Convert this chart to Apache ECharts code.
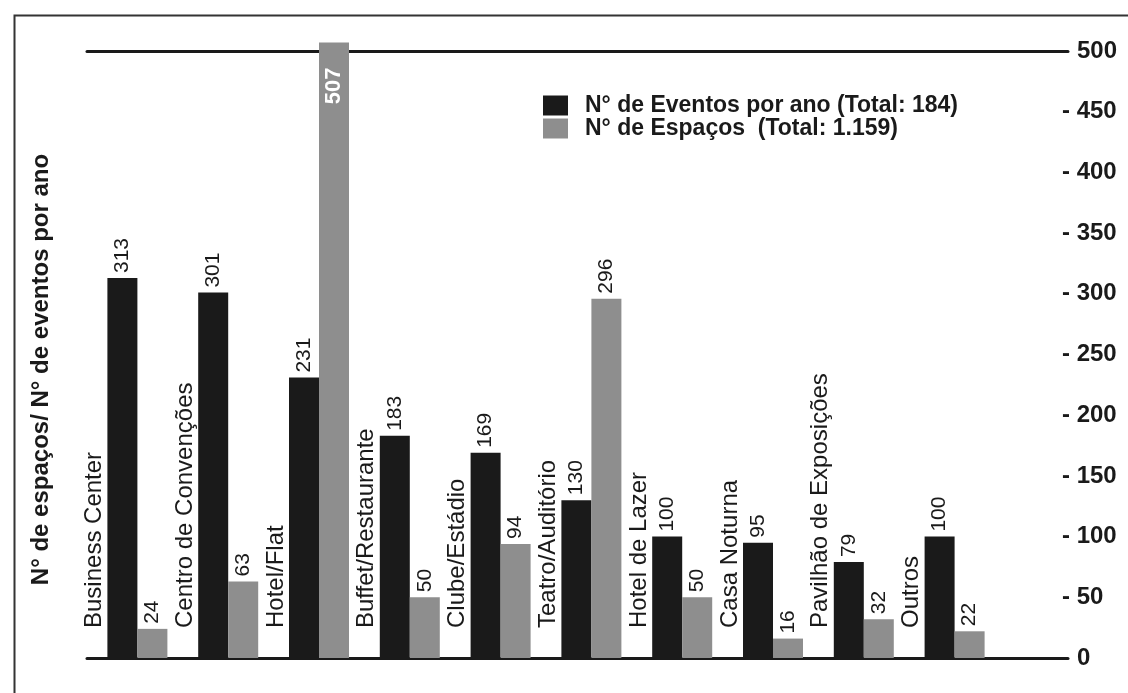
<!DOCTYPE html>
<html>
<head>
<meta charset="utf-8">
<script src="https://cdn.jsdelivr.net/npm/echarts@6/dist/echarts.min.js"></script>
<style>
html,body{margin:0;padding:0;background:#fff;}
#chart{width:1128px;height:693px;}
</style>
</head>
<body>
<div id="chart"></div>
<script>
const categories = ['Business Center','Centro de Convenções','Hotel/Flat','Buffet/Restaurante','Clube/Estádio','Teatro/Auditório','Hotel de Lazer','Casa Noturna','Pavilhão de Exposições','Outros'];
const eventos = [313, 301, 231, 183, 169, 130, 100, 95, 79, 100];
const espacos = [24, 63, 507, 50, 94, 296, 50, 16, 32, 22];
const seriesNames = ['N° de Eventos por ano (Total: 184)', 'N° de Espaços  (Total: 1.159)'];
const yMin = 0, yMax = 500, yStep = 50;
const yAxisName = 'N° de espaços/ N° de eventos por ano';

const FONT = '"Liberation Sans", Arial, Helvetica, sans-serif';
const INK = '#1a1a1a';
const BLACK = '#1a1a1a';
const GRAY = '#8e8e8e';

const chart = echarts.init(document.getElementById('chart'), null, {renderer: 'canvas'});

const valueLabel = {
  show: true, position: 'top', rotate: 90, align: 'left', verticalAlign: 'middle',
  distance: 5, fontSize: 21, color: INK, fontFamily: FONT
};

function barData(arr) {
  return arr.map(v => v > yMax ? {
    value: v,
    label: {position: 'insideTop', align: 'right', color: '#fff', distance: 25, fontWeight: 'bold', fontSize: 22}
  } : v);
}

const option = {
  backgroundColor: '#fff',
  animation: false,
  graphic: [{
    type: 'rect', left: 12, top: 13, z: -1,
    shape: {width: 1140, height: 700},
    style: {fill: 'none', stroke: '#333', lineWidth: 2}
  }],
  legend: {
    orient: 'vertical', left: 538, top: 89, itemWidth: 25, itemHeight: 20, itemGap: 0,
    icon: 'rect', data: seriesNames,
    textStyle: {fontSize: 23, fontWeight: 'bold', color: INK, fontFamily: FONT, padding: [0, 0, 0, 12]}
  },
  grid: [
    {left: 92, right: 128, top: 51, bottom: 35},
    {left: 87, right: 60, top: 51, bottom: 35}
  ],
  xAxis: [
    {type: 'category', gridIndex: 0, data: categories,
     axisLine: {show: false}, axisTick: {show: false}, axisLabel: {show: false}},
    {type: 'value', gridIndex: 1, min: 0, max: 1, position: 'bottom',
     axisLine: {show: true, onZero: false, lineStyle: {color: INK, width: 3}},
     axisTick: {show: false}, axisLabel: {show: false}, splitLine: {show: false}},
    {type: 'value', gridIndex: 1, min: 0, max: 1, position: 'top',
     axisLine: {show: true, onZero: false, lineStyle: {color: INK, width: 3}},
     axisTick: {show: false}, axisLabel: {show: false}, splitLine: {show: false}}
  ],
  yAxis: [
    {type: 'value', gridIndex: 0, min: yMin, max: yMax, interval: yStep,
     name: yAxisName, nameLocation: 'middle', nameGap: 39, nameRotate: 90,
     nameTextStyle: {fontSize: 24, fontWeight: 'bold', color: INK, fontFamily: FONT, padding: [0, 30, 0, 0]},
     axisLine: {show: false}, axisTick: {show: false}, axisLabel: {show: false}, splitLine: {show: false}},
    {type: 'value', gridIndex: 1, min: yMin, max: yMax, interval: yStep, position: 'right',
     axisLine: {show: false}, axisTick: {show: false}, splitLine: {show: false},
     axisLabel: {
       margin: -6, align: 'left', fontSize: 24, fontWeight: 'bold', color: INK, fontFamily: FONT,
       formatter: v => (v === yMin || v === yMax) ? '{e|' + v + '}' : '- ' + v,
       rich: {e: {padding: [0, 0, 0, 15], fontSize: 24, fontWeight: 'bold', color: INK, fontFamily: FONT}}
     }}
  ],
  series: [
    {name: seriesNames[0], type: 'bar', xAxisIndex: 0, yAxisIndex: 0, data: barData(eventos),
     barWidth: 30, barGap: '0%', clip: false, itemStyle: {color: BLACK}, label: valueLabel},
    {name: seriesNames[1], type: 'bar', xAxisIndex: 0, yAxisIndex: 0, data: barData(espacos),
     barWidth: 30, barGap: '0%', clip: false, itemStyle: {color: GRAY}, label: valueLabel},
    {type: 'custom', xAxisIndex: 0, yAxisIndex: 0, silent: true,
     data: categories.map((c, i) => [i, 0]),
     encode: {x: 0, y: 1},
     renderItem: function (params, api) {
       const i = api.value(0);
       const p = api.coord([i, 0]);
       return {
         type: 'text', x: p[0] - 31, y: p[1] - 30, rotation: Math.PI / 2,
         style: {text: categories[i], fontSize: 24, fontFamily: FONT, fill: INK,
                 align: 'left', verticalAlign: 'bottom'}
       };
     }}
  ]
};
chart.setOption(option);
</script>
</body>
</html>
